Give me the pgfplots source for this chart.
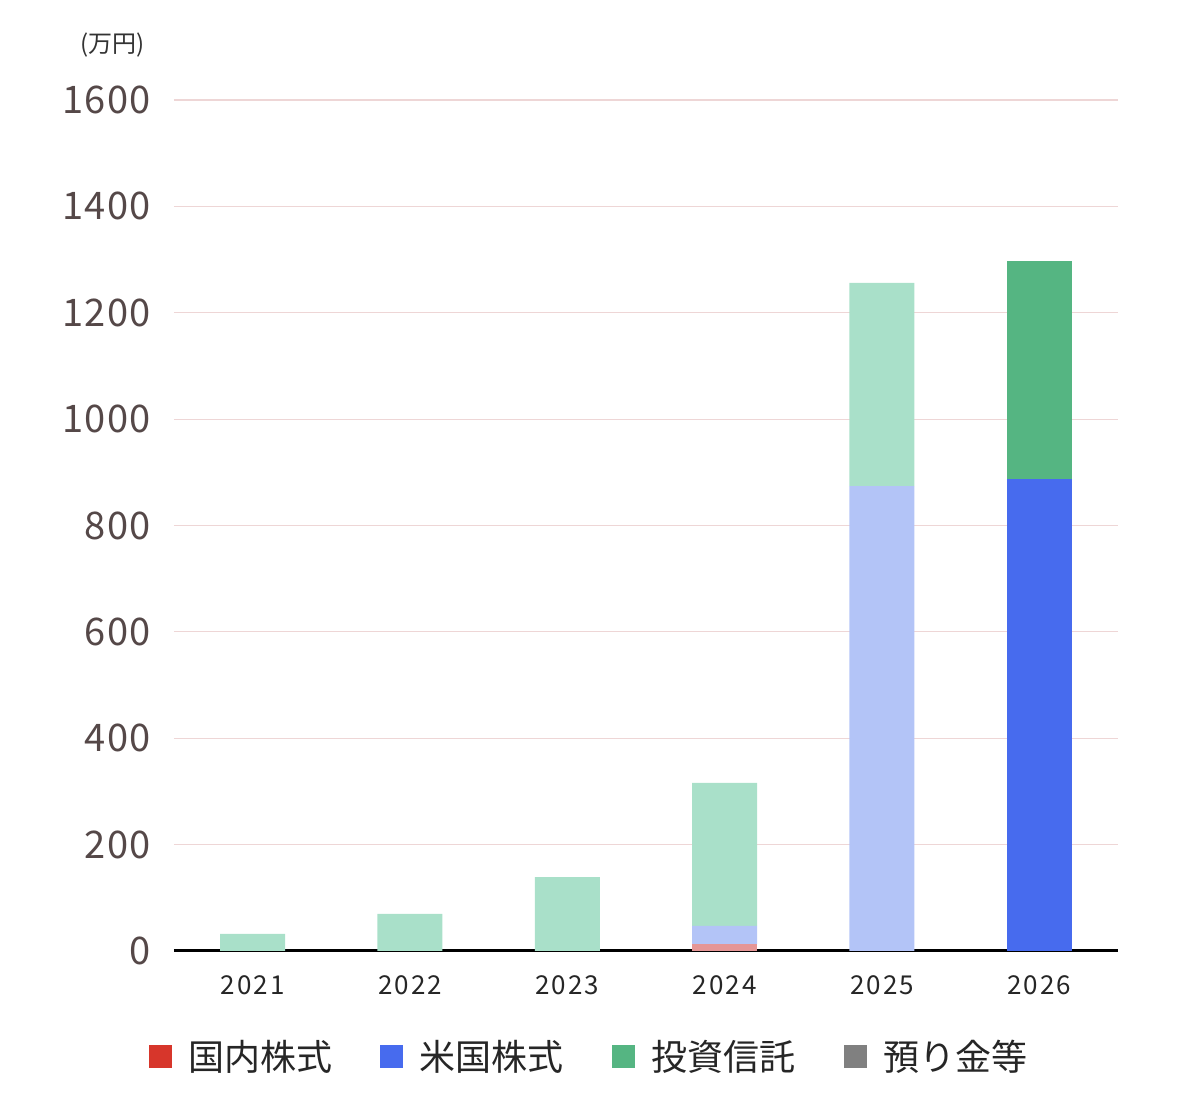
\documentclass[border=0pt]{standalone}
\usepackage{fontspec}
\setmainfont{Noto Sans CJK JP}
\usepackage{pgfplots}
\pgfplotsset{compat=1.18}

\definecolor{cred}{RGB}{215,54,43}
\definecolor{cblue}{RGB}{71,107,238}
\definecolor{cgreen}{RGB}{85,181,130}
\definecolor{cgray}{RGB}{128,128,128}
\definecolor{fred}{RGB}{229,150,150}
\definecolor{fblue}{RGB}{179,196,247}
\definecolor{fgreen}{RGB}{169,224,201}
\definecolor{gridc}{RGB}{238,214,214}
\definecolor{tickc}{RGB}{85,72,72}

\begin{document}
\begin{tikzpicture}
\useasboundingbox (0,0) rectangle (589.5pt,548pt);
\begin{axis}[
  at={(87pt,72.5pt)}, anchor=south west,
  scale only axis, width=472pt, height=425.5pt,
  ybar stacked, bar width=32.5pt,
  xmin=-0.5, xmax=5.5, ymin=0, ymax=1600,
  xtick={0,1,2,3,4,5},
  xticklabels={2021,2022,2023,2024,2025,2026},
  ytick={0,200,400,600,800,1000,1200,1400,1600},
  ymajorgrids, grid style={gridc, line width=0.6pt},
  axis x line*=bottom, axis y line*=left,
  x axis line style={black, line width=1.5pt, -},
  y axis line style={draw=none},
  major tick length=0pt,
  /pgf/number format/assume math mode=true,
  /pgf/number format/1000 sep={},
  yticklabel style={font=\fontsize{19}{22}\selectfont\addfontfeatures{LetterSpace=4}, text=tickc, xshift=-8pt},
  xticklabel style={font=\fontsize{13}{15}\selectfont\addfontfeatures{LetterSpace=8}, text=black!85, yshift=-9pt},
  every axis plot/.append style={draw=none},
]
\addplot+[fill=fred] coordinates {(0,0) (1,0) (2,0) (3,13) (4,0) (5,0)};
\addplot+[fill=fblue] coordinates {(0,0) (1,0) (2,0) (3,34) (4,874) (5,0)};
\addplot+[fill=fgreen] coordinates {(0,32) (1,70) (2,139) (3,269) (4,382) (5,0)};
\addplot+[fill=cred] coordinates {(0,0) (1,0) (2,0) (3,0) (4,0) (5,0)};
\addplot+[fill=cblue] coordinates {(0,0) (1,0) (2,0) (3,0) (4,0) (5,887)};
\addplot+[fill=cgreen] coordinates {(0,0) (1,0) (2,0) (3,0) (4,0) (5,410)};
\end{axis}
\node[font=\fontsize{12}{14}\selectfont, text=black!80] at (56.5pt,525.5pt) {(万円)};
\begin{scope}[every node/.style={font=\fontsize{18}{20}\selectfont, text=black!85, anchor=west, inner sep=0pt}]
\fill[cred]   (74.5pt,14pt) rectangle (86pt,25.5pt);
\node at (94pt,19.5pt) {国内株式};
\fill[cblue]  (190pt,14pt) rectangle (201.5pt,25.5pt);
\node at (209.5pt,19.5pt) {米国株式};
\fill[cgreen] (306pt,14pt) rectangle (317.5pt,25.5pt);
\node at (325.5pt,19.5pt) {投資信託};
\fill[cgray]  (422pt,14pt) rectangle (433.5pt,25.5pt);
\node at (441.5pt,19.5pt) {預り金等};
\end{scope}
\end{tikzpicture}
\end{document}
